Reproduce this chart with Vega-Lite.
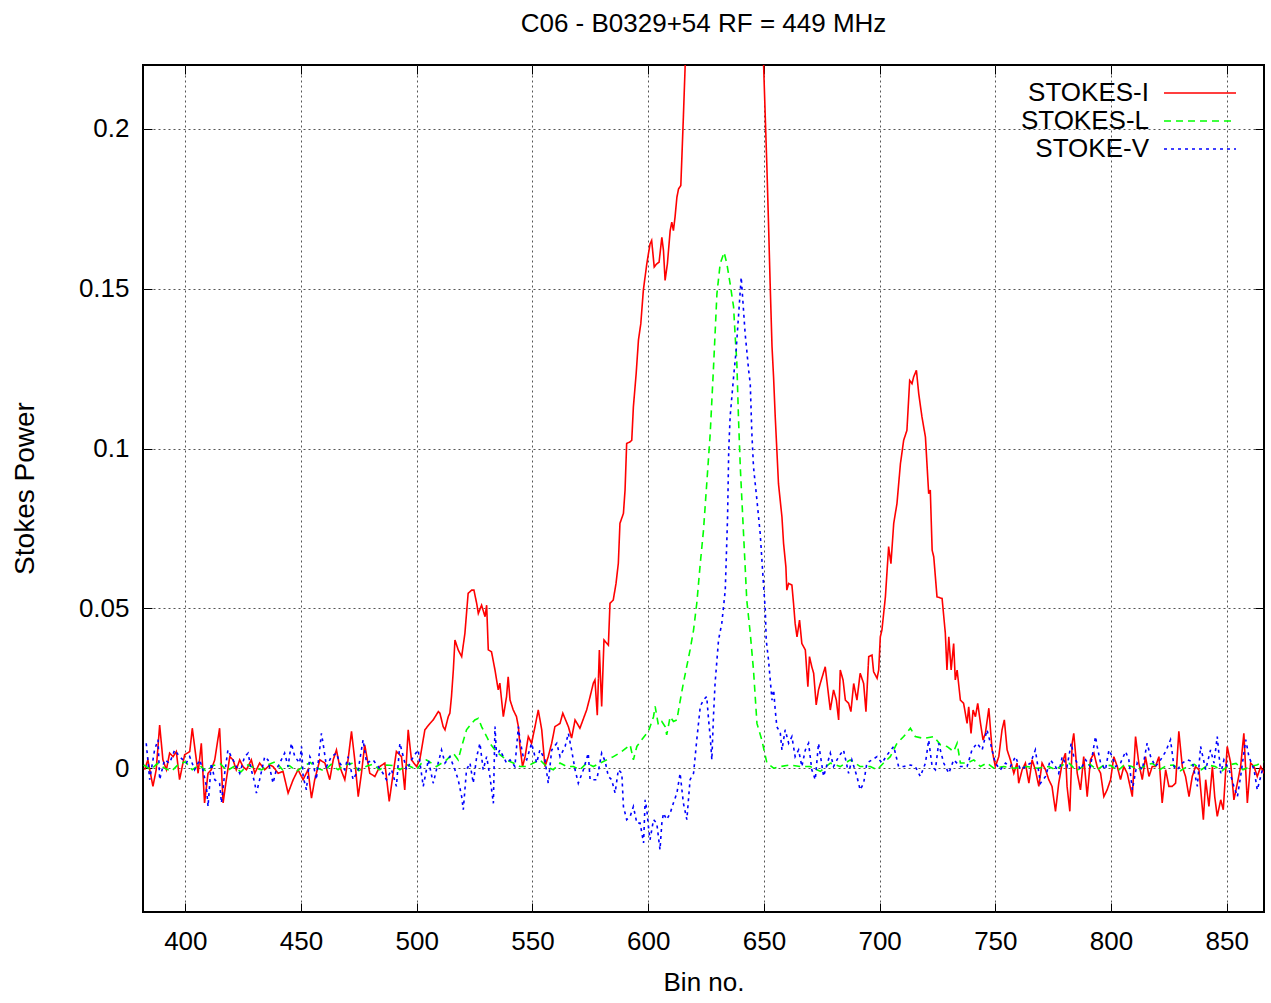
{
"$schema":"https://vega.github.io/schema/vega-lite/v6.json",
"width":1121,"height":847,
"autosize":"none",
"padding":{"left":143,"top":65,"right":7,"bottom":91},
"background":"white",
"title":{"text":"C06 - B0329+54 RF = 449 MHz","fontSize":26,"font":"Liberation Sans","fontWeight":"normal","color":"black","offset":28},
"config":{
 "view":{"stroke":"black","strokeWidth":2},
 "legend":{"orient":"none","legendX":1044,"legendY":15,"labelFontSize":26,"labelFont":"Liberation Sans","labelColor":"black","labelAlign":"right","labelOffset":-64,"symbolType":"M-3,0H3","symbolSize":576,"symbolStrokeWidth":1.6,"rowPadding":2,"labelLimit":0,"padding":0}
},
"datasets":{
"I":[{"b":382.4,"p":-0.0005},{"b":383.8,"p":0.0026},{"b":386.0,"p":-0.0057},{"b":387.4,"p":-0.0005},{"b":388.9,"p":0.0135},{"b":390.3,"p":0.0026},{"b":391.8,"p":-0.0005},{"b":393.2,"p":0.0047},{"b":394.7,"p":0.0036},{"b":396.1,"p":0.0052},{"b":397.5,"p":-0.0036},{"b":399.7,"p":0.0042},{"b":401.9,"p":0.0052},{"b":403.0,"p":0.0125},{"b":404.0,"p":0.0068},{"b":405.5,"p":-0.0016},{"b":406.9,"p":0.0078},{"b":408.3,"p":-0.0109},{"b":409.8,"p":-0.0016},{"b":411.2,"p":-0.0005},{"b":412.7,"p":0.0026},{"b":414.8,"p":0.0125},{"b":416.3,"p":-0.0109},{"b":417.7,"p":-0.0036},{"b":419.2,"p":0.0036},{"b":420.6,"p":0.0026},{"b":422.0,"p":-0.0005},{"b":423.5,"p":0.0026},{"b":424.9,"p":0.0005},{"b":426.4,"p":-0.0005},{"b":428.5,"p":0.0026},{"b":430.0,"p":-0.0016},{"b":432.1,"p":0.0016},{"b":434.3,"p":-0.0005},{"b":436.5,"p":0.001},{"b":437.9,"p":0.0005},{"b":440.1,"p":-0.0016},{"b":442.2,"p":-0.001},{"b":444.4,"p":-0.0078},{"b":446.6,"p":-0.0036},{"b":448.7,"p":-0.0005},{"b":450.9,"p":-0.0036},{"b":453.0,"p":-0.0005},{"b":454.5,"p":-0.0094},{"b":455.9,"p":-0.0036},{"b":458.1,"p":0.0026},{"b":460.3,"p":0.0016},{"b":462.4,"p":-0.0036},{"b":463.9,"p":0.0026},{"b":465.3,"p":0.0057},{"b":466.7,"p":0.0005},{"b":468.9,"p":-0.0036},{"b":470.3,"p":0.0026},{"b":471.8,"p":0.0115},{"b":473.2,"p":0.0026},{"b":474.7,"p":-0.0089},{"b":476.1,"p":-0.0016},{"b":477.5,"p":0.0073},{"b":479.7,"p":-0.0016},{"b":481.9,"p":-0.0026},{"b":484.0,"p":0.0005},{"b":486.2,"p":0.0016},{"b":488.1,"p":-0.0104},{"b":489.8,"p":-0.0016},{"b":491.2,"p":0.0052},{"b":493.4,"p":0.0036},{"b":494.8,"p":-0.0068},{"b":496.3,"p":0.012},{"b":497.7,"p":0.0026},{"b":499.9,"p":0.0005},{"b":501.3,"p":0.0026},{"b":503.5,"p":0.012},{"b":505.7,"p":0.014},{"b":507.1,"p":0.0151},{"b":509.3,"p":0.0177},{"b":510.0,"p":0.0172},{"b":511.4,"p":0.013},{"b":512.2,"p":0.012},{"b":513.6,"p":0.0161},{"b":514.3,"p":0.0172},{"b":515.0,"p":0.0224},{"b":515.8,"p":0.0307},{"b":516.5,"p":0.0401},{"b":517.9,"p":0.037},{"b":519.4,"p":0.0349},{"b":520.8,"p":0.0422},{"b":522.2,"p":0.0547},{"b":523.7,"p":0.0557},{"b":524.7,"p":0.0557},{"b":525.9,"p":0.0515},{"b":526.6,"p":0.0484},{"b":528.0,"p":0.051},{"b":529.5,"p":0.0474},{"b":530.2,"p":0.051},{"b":530.9,"p":0.037},{"b":532.3,"p":0.0364},{"b":533.8,"p":0.0307},{"b":535.2,"p":0.0245},{"b":535.9,"p":0.0266},{"b":537.4,"p":0.0161},{"b":538.8,"p":0.0224},{"b":539.5,"p":0.0286},{"b":540.3,"p":0.0213},{"b":541.7,"p":0.0182},{"b":543.1,"p":0.0161},{"b":543.9,"p":0.013},{"b":544.6,"p":0.0068},{"b":545.7,"p":0.0005},{"b":546.8,"p":0.0036},{"b":548.2,"p":0.0099},{"b":549.6,"p":0.0078},{"b":551.1,"p":0.013},{"b":552.5,"p":0.0182},{"b":554.0,"p":0.012},{"b":555.4,"p":0.0005},{"b":556.8,"p":0.0036},{"b":558.3,"p":0.0078},{"b":559.7,"p":0.013},{"b":561.9,"p":0.014},{"b":563.1,"p":0.0172},{"b":565.5,"p":0.013},{"b":566.9,"p":0.0094},{"b":568.4,"p":0.0151},{"b":570.5,"p":0.0125},{"b":573.4,"p":0.0182},{"b":574.9,"p":0.0224},{"b":576.3,"p":0.0266},{"b":577.0,"p":0.0276},{"b":578.0,"p":0.0166},{"b":578.9,"p":0.037},{"b":579.9,"p":0.0193},{"b":580.9,"p":0.0401},{"b":582.8,"p":0.0385},{"b":583.5,"p":0.0516},{"b":584.9,"p":0.0526},{"b":586.1,"p":0.0578},{"b":587.1,"p":0.0641},{"b":587.8,"p":0.0766},{"b":589.3,"p":0.0797},{"b":590.0,"p":0.087},{"b":590.7,"p":0.1016},{"b":592.2,"p":0.1021},{"b":592.9,"p":0.1026},{"b":593.6,"p":0.113},{"b":594.8,"p":0.1234},{"b":595.8,"p":0.134},{"b":596.8,"p":0.139},{"b":597.9,"p":0.1495},{"b":599.4,"p":0.1578},{"b":600.8,"p":0.164},{"b":601.5,"p":0.1651},{"b":602.6,"p":0.1568},{"b":603.7,"p":0.1578},{"b":604.7,"p":0.1583},{"b":605.9,"p":0.1661},{"b":606.6,"p":0.162},{"b":607.3,"p":0.1526},{"b":608.3,"p":0.1578},{"b":609.5,"p":0.1682},{"b":610.2,"p":0.1708},{"b":610.9,"p":0.1682},{"b":611.6,"p":0.1724},{"b":612.4,"p":0.1786},{"b":613.1,"p":0.1812},{"b":614.1,"p":0.1823},{"b":614.5,"p":0.19},{"b":615.2,"p":0.2036},{"b":616.0,"p":0.2203},{"b":617,"p":0.24},{"b":620,"p":0.3},{"b":625,"p":0.42},{"b":630,"p":0.52},{"b":635,"p":0.55},{"b":640,"p":0.48},{"b":645,"p":0.36},{"b":649.0,"p":0.235},{"b":649.9,"p":0.2193},{"b":650.6,"p":0.2036},{"b":651.3,"p":0.188},{"b":652.0,"p":0.1703},{"b":652.7,"p":0.1516},{"b":653.5,"p":0.132},{"b":654.2,"p":0.122},{"b":654.9,"p":0.1099},{"b":655.6,"p":0.0995},{"b":656.3,"p":0.089},{"b":657.8,"p":0.0786},{"b":658.5,"p":0.0703},{"b":659.5,"p":0.063},{"b":659.9,"p":0.0557},{"b":660.7,"p":0.0578},{"b":662.1,"p":0.0573},{"b":662.8,"p":0.0516},{"b":663.5,"p":0.0453},{"b":664.3,"p":0.0411},{"b":665.4,"p":0.0463},{"b":666.4,"p":0.039},{"b":667.9,"p":0.037},{"b":669.0,"p":0.0255},{"b":669.7,"p":0.0349},{"b":670.7,"p":0.0317},{"b":671.5,"p":0.0297},{"b":672.6,"p":0.0198},{"b":673.6,"p":0.0245},{"b":674.4,"p":0.0266},{"b":676.5,"p":0.0317},{"b":678.0,"p":0.0224},{"b":678.7,"p":0.0182},{"b":680.1,"p":0.0245},{"b":681.3,"p":0.0213},{"b":682.3,"p":0.0151},{"b":683.0,"p":0.0307},{"b":684.2,"p":0.0276},{"b":685.2,"p":0.0213},{"b":686.6,"p":0.0203},{"b":687.6,"p":0.0177},{"b":688.8,"p":0.0265},{"b":690.2,"p":0.0213},{"b":691.6,"p":0.0297},{"b":693.1,"p":0.0265},{"b":694.1,"p":0.0177},{"b":695.3,"p":0.0349},{"b":696.7,"p":0.0354},{"b":697.4,"p":0.0302},{"b":698.9,"p":0.0281},{"b":699.6,"p":0.0307},{"b":700.3,"p":0.0411},{"b":701.0,"p":0.0432},{"b":702.5,"p":0.0536},{"b":703.9,"p":0.0693},{"b":704.9,"p":0.064},{"b":706.1,"p":0.0766},{"b":707.5,"p":0.0828},{"b":709.0,"p":0.0953},{"b":710.4,"p":0.1026},{"b":711.8,"p":0.1057},{"b":713.0,"p":0.1213},{"b":714.0,"p":0.1203},{"b":714.7,"p":0.1224},{"b":715.9,"p":0.1245},{"b":716.9,"p":0.1172},{"b":718.3,"p":0.1099},{"b":719.8,"p":0.1036},{"b":721.2,"p":0.0859},{"b":721.9,"p":0.087},{"b":722.7,"p":0.0682},{"b":723.4,"p":0.0661},{"b":724.8,"p":0.0536},{"b":727.0,"p":0.0531},{"b":728.4,"p":0.0422},{"b":729.1,"p":0.0307},{"b":729.9,"p":0.0411},{"b":730.9,"p":0.0307},{"b":732.0,"p":0.039},{"b":732.7,"p":0.0276},{"b":733.5,"p":0.0307},{"b":734.9,"p":0.0213},{"b":736.3,"p":0.0203},{"b":737.8,"p":0.014},{"b":738.5,"p":0.0192},{"b":739.5,"p":0.0109},{"b":740.4,"p":0.0182},{"b":741.4,"p":0.0161},{"b":742.4,"p":0.0203},{"b":743.6,"p":0.014},{"b":744.7,"p":0.0088},{"b":745.7,"p":0.0109},{"b":747.2,"p":0.0187},{"b":748.6,"p":0.0057},{"b":750.0,"p":0.0005},{"b":751.5,"p":0.0036},{"b":752.9,"p":0.012},{"b":753.9,"p":0.0151},{"b":755.1,"p":0.0057},{"b":756.5,"p":0.0026},{"b":758.0,"p":-0.0016},{"b":759.4,"p":0.0016},{"b":760.1,"p":-0.0047},{"b":761.6,"p":-0.0005},{"b":763.0,"p":0.0016},{"b":764.5,"p":-0.0047},{"b":765.9,"p":0.0026},{"b":767.3,"p":-0.0005},{"b":768.8,"p":-0.0057},{"b":770.2,"p":0.0016},{"b":771.7,"p":-0.0005},{"b":773.1,"p":-0.0036},{"b":774.5,"p":-0.0057},{"b":776.0,"p":-0.0135},{"b":777.4,"p":-0.0047},{"b":778.9,"p":0.0016},{"b":780.3,"p":0.0047},{"b":781.0,"p":-0.0057},{"b":782.2,"p":-0.0135},{"b":783.2,"p":0.0078},{"b":783.9,"p":0.0109},{"b":785.4,"p":-0.0016},{"b":786.8,"p":-0.0068},{"b":788.2,"p":0.0036},{"b":789.7,"p":-0.0089},{"b":791.1,"p":0.0026},{"b":792.6,"p":0.0047},{"b":794.0,"p":0.0005},{"b":795.5,"p":-0.0016},{"b":796.9,"p":-0.0089},{"b":798.3,"p":-0.0068},{"b":799.8,"p":-0.0036},{"b":801.2,"p":0.0036},{"b":802.7,"p":0.0005},{"b":804.1,"p":-0.0036},{"b":805.5,"p":0.0005},{"b":807.0,"p":-0.0016},{"b":809.2,"p":-0.0089},{"b":810.6,"p":0.0099},{"b":812.0,"p":0.0016},{"b":813.5,"p":-0.0036},{"b":814.9,"p":0.0036},{"b":816.4,"p":-0.0026},{"b":817.8,"p":0.0005},{"b":819.2,"p":0.0005},{"b":820.7,"p":0.0036},{"b":822.1,"p":-0.0109},{"b":823.6,"p":-0.0005},{"b":825.0,"p":-0.0057},{"b":826.4,"p":-0.0057},{"b":827.9,"p":-0.0047},{"b":829.3,"p":0.0115},{"b":830.8,"p":0.0005},{"b":832.2,"p":-0.0026},{"b":833.7,"p":-0.0089},{"b":835.1,"p":-0.0026},{"b":836.5,"p":0.0005},{"b":838.0,"p":-0.0005},{"b":839.9,"p":-0.0161},{"b":840.9,"p":-0.0036},{"b":842.3,"p":-0.012},{"b":843.8,"p":0.0005},{"b":844.8,"p":-0.0089},{"b":845.9,"p":-0.0151},{"b":847.4,"p":-0.0099},{"b":848.5,"p":-0.013},{"b":850.2,"p":0.0068},{"b":851.7,"p":0.0016},{"b":853.1,"p":-0.0099},{"b":854.6,"p":-0.0047},{"b":856.0,"p":0.0005},{"b":857.4,"p":0.0109},{"b":858.9,"p":-0.0109},{"b":860.3,"p":0.0016},{"b":861.8,"p":0.0005},{"b":863.2,"p":-0.0026},{"b":864.7,"p":0.0005},{"b":866.1,"p":-0.0016}],
"L":[{"b":382,"p":0.001},{"b":385,"p":-0.0005},{"b":388,"p":0.0015},{"b":391,"p":0},{"b":394,"p":-0.001},{"b":397,"p":0.0012},{"b":400,"p":0.002},{"b":403,"p":-0.0005},{"b":406,"p":0.001},{"b":409,"p":-0.001},{"b":412,"p":0.0008},{"b":415,"p":0.0015},{"b":418,"p":-0.0008},{"b":421,"p":0.0005},{"b":424,"p":-0.0012},{"b":427,"p":0.001},{"b":430,"p":0},{"b":433,"p":-0.0005},{"b":436,"p":0.0012},{"b":439,"p":0.002},{"b":442,"p":-0.0005},{"b":445,"p":0.0008},{"b":448,"p":-0.001},{"b":451,"p":0.0005},{"b":454,"p":0.0018},{"b":457,"p":0},{"b":460,"p":-0.0008},{"b":463,"p":0.0012},{"b":466,"p":-0.0005},{"b":469,"p":0.001},{"b":472,"p":0.0015},{"b":475,"p":-0.0008},{"b":478,"p":0.0005},{"b":481,"p":0.0012},{"b":484,"p":-0.0005},{"b":487,"p":0.001},{"b":490,"p":0.0008},{"b":492.7,"p":-0.0005},{"b":496,"p":0.001},{"b":499.9,"p":-0.0005},{"b":502,"p":0.0015},{"b":504.2,"p":0.0026},{"b":508.5,"p":0.0005},{"b":512.9,"p":0.0026},{"b":515.8,"p":0.0047},{"b":517.9,"p":0.0026},{"b":519.4,"p":0.0068},{"b":521.5,"p":0.012},{"b":523.7,"p":0.014},{"b":525.1,"p":0.0151},{"b":526.6,"p":0.0156},{"b":528.0,"p":0.013},{"b":530.2,"p":0.0099},{"b":531.6,"p":0.0078},{"b":533.8,"p":0.0057},{"b":535.9,"p":0.0042},{"b":538.8,"p":0.0026},{"b":541.7,"p":0.0016},{"b":544.6,"p":0.0005},{"b":547.5,"p":0.0005},{"b":550.4,"p":0.0016},{"b":553.2,"p":0.0026},{"b":556.1,"p":0.0005},{"b":559.0,"p":-0.0005},{"b":561.9,"p":0.0016},{"b":564.8,"p":0.0005},{"b":567.7,"p":0.0005},{"b":570.5,"p":-0.0005},{"b":573.4,"p":0.0016},{"b":576.3,"p":0.0005},{"b":579.2,"p":0.0016},{"b":582.1,"p":0.0026},{"b":585.0,"p":0.0036},{"b":588.6,"p":0.0052},{"b":592.2,"p":0.0073},{"b":593.6,"p":0.0026},{"b":595.1,"p":0.0068},{"b":597.2,"p":0.0089},{"b":600.1,"p":0.0115},{"b":602.3,"p":0.0161},{"b":603.0,"p":0.0193},{"b":604.4,"p":0.0135},{"b":605.9,"p":0.0146},{"b":607.3,"p":0.013},{"b":608.0,"p":0.0104},{"b":609.5,"p":0.0161},{"b":610.9,"p":0.0146},{"b":612.4,"p":0.0151},{"b":613.8,"p":0.021},{"b":615.2,"p":0.0266},{"b":618.1,"p":0.037},{"b":619.6,"p":0.0432},{"b":621.0,"p":0.0516},{"b":622.5,"p":0.064},{"b":623.9,"p":0.0745},{"b":625.3,"p":0.089},{"b":626.8,"p":0.1047},{"b":628.2,"p":0.125},{"b":629.7,"p":0.1484},{"b":631.1,"p":0.1578},{"b":632.8,"p":0.1614},{"b":634.0,"p":0.1578},{"b":635.4,"p":0.1516},{"b":636.9,"p":0.1443},{"b":637.6,"p":0.135},{"b":638.3,"p":0.127},{"b":639.0,"p":0.1099},{"b":639.8,"p":0.0942},{"b":641.2,"p":0.0734},{"b":642.6,"p":0.0526},{"b":644.1,"p":0.0422},{"b":645.5,"p":0.0307},{"b":647.0,"p":0.014},{"b":649.1,"p":0.0088},{"b":651.3,"p":0.0016},{"b":654.2,"p":0},{"b":657.1,"p":0.0005},{"b":661.4,"p":0.001},{"b":665.7,"p":0.0005},{"b":670.0,"p":0.0005},{"b":674.4,"p":-0.001},{"b":678.7,"p":0.0016},{"b":683.0,"p":0.0005},{"b":687.3,"p":0.0026},{"b":691.6,"p":0.0005},{"b":696.0,"p":0.0005},{"b":698.9,"p":-0.0005},{"b":701.7,"p":0.0016},{"b":704.6,"p":0.0036},{"b":707.5,"p":0.0078},{"b":710.4,"p":0.0099},{"b":713.3,"p":0.0125},{"b":715.4,"p":0.0099},{"b":719.0,"p":0.0093},{"b":723.4,"p":0.0099},{"b":726.3,"p":0.0073},{"b":729.1,"p":0.0068},{"b":732.0,"p":0.0052},{"b":733.5,"p":0.0078},{"b":734.9,"p":0.0016},{"b":737.8,"p":0.0016},{"b":740.7,"p":0.0026},{"b":743.6,"p":0.0005},{"b":746.4,"p":0.0016},{"b":749.3,"p":0},{"b":753.6,"p":0.0005},{"b":758.0,"p":0},{"b":763.7,"p":0.0005},{"b":768.1,"p":0},{"b":773.1,"p":0.0005},{"b":776,"p":-0.0005},{"b":779,"p":0.001},{"b":782,"p":0.0015},{"b":785,"p":-0.0008},{"b":788,"p":0.0005},{"b":791,"p":0.0012},{"b":794,"p":-0.0005},{"b":797,"p":0.001},{"b":800,"p":0.0008},{"b":803,"p":-0.0008},{"b":806,"p":0.0012},{"b":809,"p":0.0005},{"b":812,"p":-0.0005},{"b":815,"p":0.001},{"b":818,"p":0.0015},{"b":821,"p":-0.0005},{"b":824,"p":0.0008},{"b":827,"p":0.001},{"b":830,"p":-0.0008},{"b":833,"p":0.0005},{"b":836,"p":0.0012},{"b":839,"p":-0.0005},{"b":842,"p":0.001},{"b":845,"p":0.0005},{"b":848,"p":-0.0008},{"b":851,"p":0.001},{"b":854,"p":0.0015},{"b":857,"p":-0.0005},{"b":860,"p":0.0005},{"b":863,"p":0.001},{"b":866,"p":0.002}],
"V":[{"b":383.1,"p":0.0078},{"b":384.6,"p":-0.0036},{"b":386.7,"p":0.0057},{"b":388.2,"p":0.0089},{"b":388.9,"p":-0.0036},{"b":391.0,"p":0.0026},{"b":393.2,"p":0.0016},{"b":395.4,"p":0.0057},{"b":397.5,"p":0.0036},{"b":400.4,"p":0.0016},{"b":401.9,"p":0.0036},{"b":404.0,"p":-0.0005},{"b":406.2,"p":0.0026},{"b":407.6,"p":-0.0005},{"b":409.1,"p":-0.0057},{"b":409.8,"p":-0.012},{"b":411.2,"p":0.0016},{"b":412.7,"p":-0.0036},{"b":414.8,"p":-0.0047},{"b":415.6,"p":-0.0109},{"b":417.0,"p":-0.0016},{"b":418.4,"p":0.0057},{"b":419.9,"p":0.0036},{"b":421.3,"p":0.0016},{"b":423.5,"p":-0.0016},{"b":425.6,"p":0.0036},{"b":427.1,"p":0.0047},{"b":428.5,"p":-0.0005},{"b":430.0,"p":-0.0047},{"b":430.7,"p":-0.0078},{"b":432.1,"p":-0.0036},{"b":434.3,"p":0.0036},{"b":435.7,"p":0.0026},{"b":437.9,"p":-0.0047},{"b":439.3,"p":-0.0005},{"b":440.8,"p":0.0016},{"b":442.9,"p":0.0047},{"b":444.4,"p":0.0005},{"b":445.8,"p":0.0078},{"b":447.3,"p":0.0036},{"b":449.4,"p":0.0016},{"b":450.2,"p":0.0068},{"b":450.9,"p":-0.0026},{"b":452.3,"p":-0.0068},{"b":453.8,"p":0.0036},{"b":455.2,"p":0.0016},{"b":456.6,"p":-0.0036},{"b":458.8,"p":0.0109},{"b":459.5,"p":0.0078},{"b":461.0,"p":0.0005},{"b":463.1,"p":0.0036},{"b":465.3,"p":0.0047},{"b":466.7,"p":0.0016},{"b":468.9,"p":-0.0005},{"b":470.3,"p":0.0036},{"b":472.5,"p":-0.0036},{"b":474.7,"p":-0.0005},{"b":476.8,"p":0.0089},{"b":478.3,"p":0.0016},{"b":481.1,"p":0.0026},{"b":483.3,"p":0.0005},{"b":485.4,"p":-0.0016},{"b":486.9,"p":-0.0036},{"b":489.1,"p":-0.0005},{"b":491.2,"p":-0.0057},{"b":492.7,"p":0.0078},{"b":495.6,"p":-0.0005},{"b":498.5,"p":0.0036},{"b":500.6,"p":0.0057},{"b":502.8,"p":-0.0057},{"b":505.0,"p":0.0026},{"b":507.1,"p":-0.0047},{"b":508.5,"p":-0.0005},{"b":510.7,"p":0.0057},{"b":512.2,"p":0.0016},{"b":514.3,"p":0.0036},{"b":516.5,"p":-0.0005},{"b":517.9,"p":-0.0036},{"b":519.4,"p":-0.0089},{"b":520.1,"p":-0.013},{"b":521.5,"p":-0.0005},{"b":523.0,"p":0.0016},{"b":524.4,"p":-0.0047},{"b":525.9,"p":0.0036},{"b":527.3,"p":0.0078},{"b":528.7,"p":-0.0005},{"b":530.2,"p":0.0036},{"b":531.6,"p":-0.0026},{"b":533.1,"p":-0.011},{"b":533.8,"p":0.013},{"b":534.5,"p":0.0036},{"b":535.9,"p":0.0057},{"b":537.4,"p":0.0036},{"b":538.8,"p":0.0016},{"b":540.3,"p":0.0026},{"b":542.4,"p":0.0005},{"b":543.9,"p":0.013},{"b":544.6,"p":0.0088},{"b":546.0,"p":0.0036},{"b":547.5,"p":0.0026},{"b":549.6,"p":0.0078},{"b":551.8,"p":0.0016},{"b":553.2,"p":0.0057},{"b":555.4,"p":0.0026},{"b":556.8,"p":-0.0047},{"b":558.3,"p":0.0057},{"b":560.5,"p":0.0078},{"b":561.9,"p":0.0036},{"b":564.1,"p":0.0068},{"b":565.5,"p":0.0109},{"b":566.9,"p":0.0057},{"b":568.4,"p":-0.0005},{"b":569.8,"p":-0.0047},{"b":572.0,"p":-0.0005},{"b":574.1,"p":0.0047},{"b":574.9,"p":-0.0036},{"b":577.8,"p":-0.0036},{"b":579.9,"p":0.0047},{"b":581.4,"p":0.0021},{"b":582.8,"p":-0.0026},{"b":584.2,"p":-0.0036},{"b":585.7,"p":-0.0078},{"b":587.1,"p":-0.0005},{"b":588.6,"p":-0.0016},{"b":589.3,"p":-0.012},{"b":590.7,"p":-0.0161},{"b":592.2,"p":-0.0151},{"b":593.6,"p":-0.012},{"b":595.1,"p":-0.0172},{"b":596.5,"p":-0.0172},{"b":598.0,"p":-0.0234},{"b":598.7,"p":-0.0099},{"b":599.4,"p":-0.013},{"b":600.1,"p":-0.0182},{"b":600.8,"p":-0.0224},{"b":602.3,"p":-0.0161},{"b":603.7,"p":-0.0172},{"b":604.4,"p":-0.0214},{"b":605.1,"p":-0.0255},{"b":605.9,"p":-0.0172},{"b":606.6,"p":-0.0141},{"b":608.0,"p":-0.0161},{"b":609.5,"p":-0.0141},{"b":610.9,"p":-0.0109},{"b":612.4,"p":-0.0078},{"b":613.8,"p":-0.0016},{"b":615.2,"p":-0.0109},{"b":616.7,"p":-0.0161},{"b":618.1,"p":-0.0036},{"b":619.6,"p":-0.0016},{"b":621.0,"p":0.0089},{"b":622.5,"p":0.0193},{"b":623.9,"p":0.0214},{"b":625.3,"p":0.0224},{"b":626.1,"p":0.0151},{"b":626.8,"p":0.0099},{"b":627.5,"p":0.0026},{"b":628.2,"p":0.0161},{"b":628.9,"p":0.0265},{"b":630.4,"p":0.0401},{"b":631.8,"p":0.0453},{"b":633.3,"p":0.0557},{"b":634.3,"p":0.0786},{"b":634.8,"p":0.0995},{"b":635.4,"p":0.1099},{"b":636.9,"p":0.1224},{"b":638.0,"p":0.1307},{"b":639.5,"p":0.1464},{"b":640.2,"p":0.1536},{"b":641.2,"p":0.1432},{"b":641.9,"p":0.1359},{"b":642.6,"p":0.1307},{"b":643.4,"p":0.1245},{"b":644.1,"p":0.1203},{"b":644.8,"p":0.1047},{"b":645.5,"p":0.0943},{"b":647.0,"p":0.0838},{"b":648.4,"p":0.0734},{"b":649.8,"p":0.0578},{"b":650.6,"p":0.0495},{"b":651.0,"p":0.0401},{"b":652.0,"p":0.0338},{"b":653.5,"p":0.0213},{"b":654.2,"p":0.0245},{"b":654.9,"p":0.0182},{"b":655.6,"p":0.013},{"b":657.1,"p":0.0109},{"b":657.8,"p":0.0057},{"b":659.2,"p":0.012},{"b":660.7,"p":0.0078},{"b":662.1,"p":0.0099},{"b":663.5,"p":0.0036},{"b":665.0,"p":0.0057},{"b":666.4,"p":0.0005},{"b":667.9,"p":0.0057},{"b":669.3,"p":0.0078},{"b":670.7,"p":-0.0005},{"b":672.2,"p":-0.0036},{"b":673.6,"p":0.0078},{"b":675.8,"p":-0.0026},{"b":678.7,"p":0.0047},{"b":680.1,"p":0.0005},{"b":682.3,"p":0.0036},{"b":684.4,"p":0.0057},{"b":686.6,"p":-0.0016},{"b":688.0,"p":0.0026},{"b":690.2,"p":-0.0026},{"b":691.6,"p":-0.0068},{"b":693.1,"p":-0.0047},{"b":694.5,"p":0.0016},{"b":696.7,"p":0.0026},{"b":698.9,"p":0.0036},{"b":701.0,"p":0.0016},{"b":703.2,"p":0.0041},{"b":706.1,"p":0.0068},{"b":708.2,"p":0.0005},{"b":710.4,"p":0.0005},{"b":713.3,"p":0.001},{"b":715.4,"p":0.0005},{"b":717.6,"p":-0.0026},{"b":719.8,"p":0.0016},{"b":721.2,"p":0.0088},{"b":722.7,"p":0.0005},{"b":724.1,"p":-0.0005},{"b":725.5,"p":0.0078},{"b":727.7,"p":0.0016},{"b":729.9,"p":-0.0016},{"b":732.0,"p":0.0026},{"b":734.9,"p":0.0005},{"b":737.8,"p":0.0005},{"b":739.9,"p":0.0057},{"b":742.1,"p":0.0078},{"b":744.3,"p":0.0057},{"b":746.4,"p":0.012},{"b":747.9,"p":0.0078},{"b":750.0,"p":0.0016},{"b":752.2,"p":-0.0005},{"b":754.4,"p":0.0016},{"b":756.5,"p":0.0005},{"b":758.7,"p":0.0036},{"b":760.9,"p":-0.0005},{"b":763.0,"p":0.0005},{"b":765.2,"p":0.0016},{"b":767.3,"p":0.0057},{"b":769.5,"p":-0.0047},{"b":771.7,"p":-0.0026},{"b":773.8,"p":0.0026},{"b":776.0,"p":0.0005},{"b":777.4,"p":-0.0016},{"b":778.9,"p":0.0036},{"b":781.0,"p":0.0005},{"b":782.8,"p":0.0078},{"b":783.9,"p":0.0036},{"b":785.4,"p":0.0016},{"b":786.8,"p":-0.0005},{"b":789.0,"p":0.0026},{"b":791.1,"p":0.0005},{"b":793.3,"p":0.0099},{"b":794.0,"p":0.0068},{"b":795.5,"p":0.0016},{"b":797.6,"p":-0.0005},{"b":799.1,"p":0.0057},{"b":800.5,"p":0.0036},{"b":802.0,"p":0.0005},{"b":804.1,"p":0.0016},{"b":806.3,"p":0.0052},{"b":807.7,"p":0.0026},{"b":809.2,"p":-0.0068},{"b":811.3,"p":0.0016},{"b":813.5,"p":-0.0005},{"b":815.6,"p":0.0078},{"b":817.1,"p":0.0036},{"b":819.2,"p":0.0005},{"b":821.4,"p":0.0026},{"b":823.6,"p":0.0052},{"b":825.7,"p":0.0089},{"b":827.2,"p":0.0005},{"b":828.6,"p":-0.0005},{"b":830.8,"p":0.0016},{"b":832.9,"p":0.0026},{"b":835.1,"p":0.0021},{"b":837.3,"p":-0.0057},{"b":838.7,"p":0.0068},{"b":840.9,"p":-0.0005},{"b":843.0,"p":0.0057},{"b":844.5,"p":0.0016},{"b":845.9,"p":0.0099},{"b":847.4,"p":-0.0016},{"b":848.8,"p":0.0026},{"b":851.0,"p":-0.0005},{"b":853.1,"p":-0.0057},{"b":854.6,"p":-0.0089},{"b":856.0,"p":-0.0026},{"b":858.2,"p":0.0089},{"b":859.6,"p":0.0036},{"b":861.8,"p":-0.0005},{"b":863.2,"p":-0.0068},{"b":865.4,"p":-0.0005}]
},
"layer":[
 {"data":{"name":"I"},
  "mark":{"type":"line","clip":true,"strokeWidth":1.6},
  "encoding":{
   "x":{"field":"b","type":"quantitative","scale":{"domain":[381.7,866.1],"nice":false,"zero":false},
        "axis":{"orient":"bottom","values":[400,450,500,550,600,650,700,750,800,850],"format":"d","grid":true,"gridDash":[2,3],"gridColor":"#555","gridWidth":1,"domain":false,"tickSize":-9,"tickColor":"black","tickWidth":1,"labelPadding":25,"labelFontSize":26,"labelFont":"Liberation Sans","labelColor":"black","labelFlush":false,"title":"Bin no.","titleFontSize":26,"titleFont":"Liberation Sans","titleFontWeight":"normal","titleColor":"black","titleBaseline":"middle","titleY":70}},
   "y":{"field":"p","type":"quantitative","scale":{"domain":[-0.045,0.22],"nice":false,"zero":false},
        "axis":{"orient":"left","values":[0,0.05,0.1,0.15,0.2],"format":".2~f","grid":true,"gridDash":[2,3],"gridColor":"#555","gridWidth":1,"domain":false,"tickSize":-9,"tickColor":"black","tickWidth":1,"labelPadding":23,"labelFontSize":26,"labelFont":"Liberation Sans","labelColor":"black","title":"Stokes Power","titleFontSize":28,"titleFont":"Liberation Sans","titleFontWeight":"normal","titleColor":"black","titleBaseline":"middle","titleAngle":-90,"titleX":-118,"titleY":423}},
   "color":{"datum":"STOKES-I","type":"nominal","scale":{"domain":["STOKES-I","STOKES-L","STOKE-V"],"range":["#ff0000","#00ff00","#0000ff"]},"legend":{"title":null}},
   "strokeDash":{"datum":"STOKES-I","type":"nominal","scale":{"domain":["STOKES-I","STOKES-L","STOKE-V"],"range":[[1,0],[7,5],[3,4]]},"legend":{"title":null}}
  }},
 {"data":{"name":"L"},
  "mark":{"type":"line","clip":true,"strokeWidth":1.6},
  "encoding":{
   "x":{"field":"b","type":"quantitative","axis":{"orient":"top","values":[400,450,500,550,600,650,700,750,800,850],"labels":false,"grid":false,"domain":false,"tickSize":-9,"tickColor":"black","tickWidth":1,"title":null}},
   "y":{"field":"p","type":"quantitative","axis":{"orient":"right","values":[0,0.05,0.1,0.15,0.2],"labels":false,"grid":false,"domain":false,"tickSize":-9,"tickColor":"black","tickWidth":1,"title":null}},
   "color":{"datum":"STOKES-L","type":"nominal","legend":{"title":null}},
   "strokeDash":{"datum":"STOKES-L","type":"nominal","legend":{"title":null}}
  }},
 {"data":{"name":"V"},
  "mark":{"type":"line","clip":true,"strokeWidth":1.6},
  "encoding":{
   "x":{"field":"b","type":"quantitative","axis":null},
   "y":{"field":"p","type":"quantitative","axis":null},
   "color":{"datum":"STOKE-V","type":"nominal","legend":{"title":null}},
   "strokeDash":{"datum":"STOKE-V","type":"nominal","legend":{"title":null}}
  }}
],
"resolve":{"axis":{"x":"independent","y":"independent"}}
}
